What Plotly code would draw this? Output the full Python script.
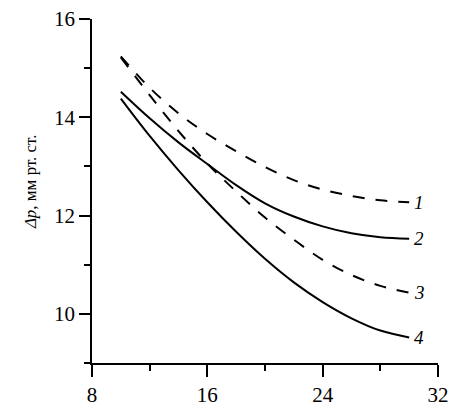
import plotly.graph_objects as go

x_vals = [10, 12, 14, 16, 18, 20, 22, 24, 26, 28, 30]
curve1 = [15.24, 14.60, 14.08, 13.66, 13.31, 12.99, 12.72, 12.53, 12.40, 12.31, 12.27]
curve2 = [14.52, 13.98, 13.49, 13.05, 12.62, 12.25, 11.98, 11.78, 11.64, 11.56, 11.53]
curve3 = [15.22, 14.45, 13.72, 13.06, 12.49, 11.96, 11.51, 11.10, 10.79, 10.57, 10.43]
curve4 = [14.38, 13.62, 12.92, 12.27, 11.67, 11.12, 10.64, 10.24, 9.91, 9.66, 9.52]
labels = ["1", "2", "3", "4"]
styles = ["dash", "solid", "dash", "solid"]

x_ticks = [8, 16, 24, 32]
y_ticks = [10, 12, 14, 16]

FONT = "Liberation Serif, Times New Roman, serif"
fig = go.Figure()
series = [curve1, curve2, curve3, curve4]
for ys, lab, st in zip(series, labels, styles):
    fig.add_trace(go.Scatter(
        x=x_vals, y=ys, mode="lines", line_shape="spline",
        line=dict(color="black", width=2, dash="12px,11px" if st == "dash" else "solid"),
        showlegend=False, hoverinfo="skip"))
    fig.add_annotation(x=x_vals[-1], y=ys[-1], text="<i>" + lab + "</i>",
                       showarrow=False, xanchor="left", yanchor="middle",
                       xshift=3, font=dict(family=FONT, size=19, color="black"))

fig.add_annotation(xref="paper", yref="paper", x=-0.179, y=0.526,
                   xanchor="center", yanchor="middle",
                   text="<i>Δp</i>, мм рт. ст.", textangle=-90, showarrow=False,
                   font=dict(family=FONT, size=17, color="black"))

fig.update_xaxes(range=[8, 32], tickvals=x_ticks, ticks="outside", ticklen=12,
                 tickwidth=1.6, tickcolor="black", showline=True, linecolor="black",
                 linewidth=1.6, showgrid=False, zeroline=False, automargin=False,
                 ticklabeloverflow="allow",
                 minor=dict(ticks="outside", ticklen=6, tickwidth=1.6, tickcolor="black",
                            tickvals=[12, 20, 28]),
                 tickfont=dict(family=FONT, size=21, color="black"))
fig.update_yaxes(range=[9, 16], tickvals=y_ticks, ticks="outside", ticklen=11,
                 tickwidth=1.6, tickcolor="black", showline=True, linecolor="black",
                 linewidth=1.6, showgrid=False, zeroline=False, automargin=False,
                 ticklabeloverflow="allow",
                 minor=dict(ticks="outside", ticklen=6, tickwidth=1.6, tickcolor="black",
                            tickvals=[9, 11, 13, 15]),
                 tickfont=dict(family=FONT, size=21, color="black"))
fig.update_layout(width=464, height=400, margin=dict(l=84, r=34, t=11, b=45),
                  plot_bgcolor="white", paper_bgcolor="white")
fig.write_html("out.html")
